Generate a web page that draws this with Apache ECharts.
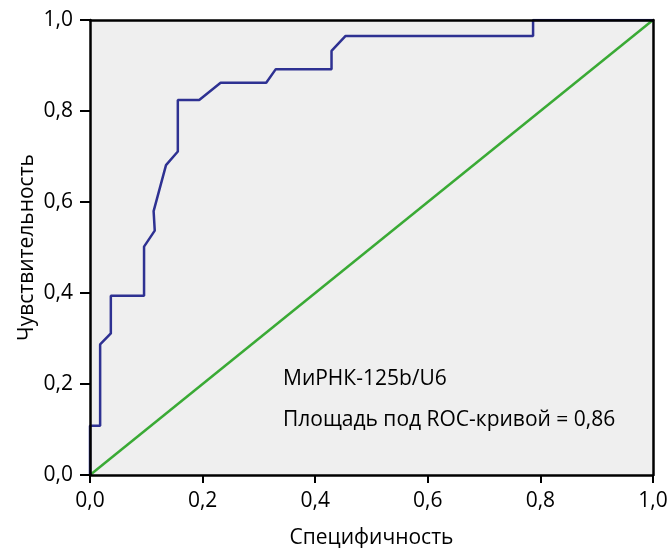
<!DOCTYPE html>
<html>
<head>
<meta charset="utf-8">
<script src="https://cdn.jsdelivr.net/npm/echarts@6/dist/echarts.min.js"></script>
<style>
  html, body { margin: 0; padding: 0; background: #fff; }
  #chart { width: 671px; height: 548px; }
</style>
</head>
<body>
<div id="chart"></div>
<script>
// ROC curve
const rocX = [0, 0, 0.018, 0.018, 0.037, 0.037, 0.096, 0.096, 0.115, 0.113, 0.135, 0.156, 0.156, 0.194, 0.232, 0.313, 0.330, 0.429, 0.429, 0.454, 0.787, 0.787, 1];
const rocY = [0, 0.108, 0.108, 0.287, 0.311, 0.394, 0.394, 0.502, 0.537, 0.580, 0.681, 0.711, 0.824, 0.824, 0.862, 0.862, 0.892, 0.892, 0.932, 0.965, 0.965, 1, 1];
const refLine = [[0, 0], [1, 1]];
const tickLabels = ['0,0', '0,2', '0,4', '0,6', '0,8', '1,0'];
const labelLines = ['МиРНК-125b/U6', 'Площадь под ROC-кривой = 0,86'];

const FONT = '"Open Sans", "DejaVu Sans", sans-serif';
const fmt = v => tickLabels[Math.round(v * 5)];

const chart = echarts.init(document.getElementById('chart'));

const hiddenAxis = {
    min: 0, max: 1, interval: 0.2,
    axisLine: { show: true, onZero: false, lineStyle: { color: '#000', width: 2.5 } },
    axisTick: { show: false },
    axisLabel: { show: false },
    splitLine: { show: false },
    z: 5
};

chart.setOption({
    animation: false,
    grid: {
        left: 90, right: 18, top: 20, bottom: 73,
        outerBoundsMode: 'none', containLabel: false,
        show: true, backgroundColor: '#efefef', borderWidth: 0
    },
    xAxis: [{
        type: 'value', min: 0, max: 1, interval: 0.2,
        name: 'Специфичность', nameLocation: 'middle', nameGap: 53, nameMoveOverlap: false,
        nameTextStyle: { fontFamily: FONT, fontSize: 21, color: '#000' },
        axisLine: { onZero: false, lineStyle: { color: '#000', width: 2.5 } },
        axisTick: { length: 8, lineStyle: { color: '#000', width: 2 } },
        axisLabel: { margin: 16, formatter: fmt, fontFamily: FONT, fontSize: 21, color: '#000' },
        splitLine: { show: false },
        z: 5
    }, Object.assign({ type: 'value', position: 'top' }, hiddenAxis)],
    yAxis: [{
        type: 'value', min: 0, max: 1, interval: 0.2,
        name: 'Чувствительность', nameLocation: 'middle', nameGap: 52, nameMoveOverlap: false,
        nameTextStyle: { fontFamily: FONT, fontSize: 21, color: '#000' },
        axisLine: { onZero: false, lineStyle: { color: '#000', width: 2.5 } },
        axisTick: { length: 10, lineStyle: { color: '#000', width: 2 } },
        axisLabel: { margin: 17, formatter: fmt, fontFamily: FONT, fontSize: 21, color: '#000' },
        splitLine: { show: false },
        z: 5
    }, Object.assign({ type: 'value', position: 'right' }, hiddenAxis)],
    series: [{
        type: 'line',
        data: refLine,
        showSymbol: false,
        lineStyle: { color: '#3aaa35', width: 2.5 },
        z: 2
    }, {
        type: 'line',
        data: rocX.map((x, i) => [x, rocY[i]]),
        showSymbol: false,
        lineStyle: { color: '#2e3192', width: 2.5 },
        z: 3
    }],
    graphic: labelLines.map((t, i) => ({
        type: 'text',
        left: 283,
        top: 369 + i * 41,
        z: 10,
        style: { text: t, font: '21px ' + FONT, fill: '#000' }
    }))
});
</script>
</body>
</html>
